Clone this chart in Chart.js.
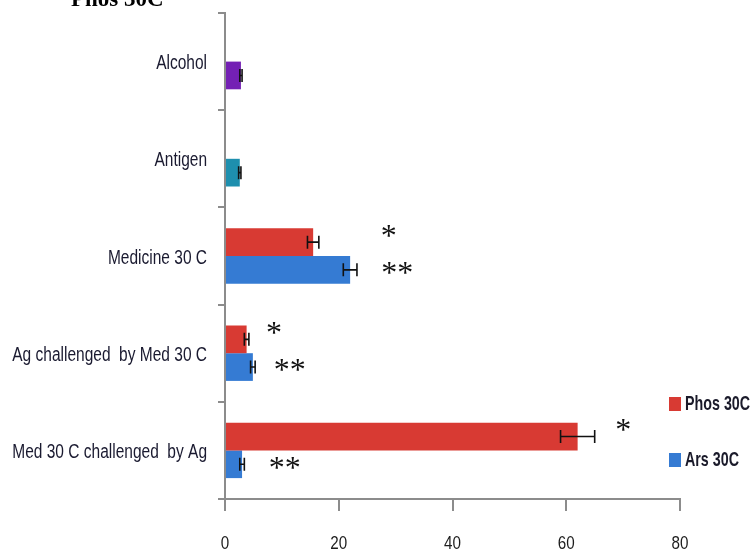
<!DOCTYPE html>
<html>
<head>
<meta charset="utf-8">
<script src="https://cdn.jsdelivr.net/npm/chart.js@4/dist/chart.umd.min.js"></script>
<style>
  html, body { margin: 0; padding: 0; background: #fff; }
  #wrap { width: 755px; height: 558px; position: relative; }
</style>
</head>
<body>
<div id="wrap"><canvas id="c" width="755" height="558"></canvas></div>
<script>
// ---- data ----
const categories = ["Alcohol", "Antigen", "Medicine 30 C", "Ag challenged  by Med 30 C", "Med 30 C challenged  by Ag"];
const seriesNames = ["Phos 30C", "Ars 30C"];
const phosValues = [null, null, 15.5, 3.8, 62.0];
const phosErrors = [null, null, 1.0, 0.4, 3.0];
const arsValues = [2.8, 2.6, 22.0, 4.9, 3.0];
const arsErrors = [0.2, 0.2, 1.2, 0.4, 0.4];
const phosStars = ["", "", "*", "*", "*"];
const phosStarAt = [null, null, 28.8, 8.6, 70.0];
const arsStars = ["", "", "**", "**", "**"];
const arsStarAt = [null, null, 30.3, 11.4, 10.5];
const xTicks = [0, 20, 40, 60, 80];
const titleText = "Phos 30C";

// ---- styles ----
const RED = "#d83a33";
const BLUE = "#357bd3";
const PURPLE = "#7420b4";
const TEAL = "#1e8fae";
const arsColors = [PURPLE, TEAL, BLUE, BLUE, BLUE];
const SANS = "'Liberation Sans', Arial, sans-serif";
const AXIS = "#8c8c8c";

function narrowText(ctx, text, x, y, align, squeeze) {
  ctx.save();
  ctx.translate(x, y);
  ctx.scale(squeeze, 1);
  ctx.textAlign = align;
  ctx.fillText(text, 0, 0);
  ctx.restore();
}

const extras = {
  id: "extras",
  afterDatasetsDraw(chart) {
    const ctx = chart.ctx;
    const xs = chart.scales.x;
    const errs = [phosErrors, arsErrors];
    const stars = [phosStars, arsStars];
    const starAt = [phosStarAt, arsStarAt];
    const starDy = [-5, 5];
    ctx.save();
    for (let d = 0; d < 2; d++) {
      const meta = chart.getDatasetMeta(d);
      const vals = chart.data.datasets[d].data;
      meta.data.forEach((el, i) => {
        const v = vals[i];
        if (v === null || v === undefined) return;
        const e = errs[d][i];
        if (e) {
          const x0 = xs.getPixelForValue(v - e);
          const x1 = xs.getPixelForValue(v + e);
          const y = el.y;
          const h = 6.5;
          ctx.strokeStyle = "#111";
          ctx.lineWidth = 1.6;
          ctx.beginPath();
          ctx.moveTo(x0, y); ctx.lineTo(x1, y);
          ctx.moveTo(x0, y - h); ctx.lineTo(x0, y + h);
          ctx.moveTo(x1, y - h); ctx.lineTo(x1, y + h);
          ctx.stroke();
        }
        const s = stars[d][i];
        if (s) {
          ctx.fillStyle = "#111";
          ctx.font = "32px 'Liberation Serif', 'Times New Roman', serif";
          ctx.textAlign = "center";
          ctx.textBaseline = "middle";
          ctx.fillText(s, xs.getPixelForValue(starAt[d][i]), el.y + starDy[d]);
        }
      });
    }
    ctx.restore();
  },
  afterDraw(chart) {
    const ctx = chart.ctx;
    const xs = chart.scales.x;
    const ys = chart.scales.y;
    ctx.save();
    // clipped title
    ctx.fillStyle = "#000";
    ctx.font = "bold 23px 'Liberation Serif', 'Times New Roman', serif";
    ctx.textAlign = "left";
    ctx.textBaseline = "alphabetic";
    ctx.fillText(titleText, 71, 6);
    // category labels
    ctx.fillStyle = "#1a1a30";
    ctx.font = "20px " + SANS;
    ctx.textBaseline = "middle";
    categories.forEach((c, i) => narrowText(ctx, c, 207, ys.getPixelForValue(i) + 2, "right", 0.775));
    // x tick labels
    ctx.fillStyle = "#1c1c1c";
    ctx.font = "19px " + SANS;
    xTicks.forEach(v => narrowText(ctx, String(v), xs.getPixelForValue(v), 544, "center", 0.8));
    // legend
    const cols = [RED, BLUE];
    const ly = [404, 460];
    ctx.font = "bold 21px " + SANS;
    for (let i = 0; i < 2; i++) {
      ctx.fillStyle = cols[i];
      ctx.fillRect(669, ly[i] - 7, 12, 14);
      ctx.fillStyle = "#1a1a2a";
      narrowText(ctx, seriesNames[i], 685, ly[i], "left", 0.68);
    }
    ctx.restore();
  }
};

new Chart(document.getElementById("c"), {
  type: "bar",
  data: {
    labels: categories,
    datasets: [
      { label: seriesNames[0], data: phosValues, backgroundColor: RED, borderWidth: 0 },
      { label: seriesNames[1], data: arsValues, backgroundColor: arsColors, borderWidth: 0 }
    ]
  },
  options: {
    indexAxis: "y",
    responsive: false,
    animation: false,
    layout: { padding: { left: 0, right: 75, top: 13, bottom: 0 } },
    datasets: { bar: { categoryPercentage: 0.57, barPercentage: 1.0 } },
    plugins: { legend: { display: false }, tooltip: { enabled: false }, title: { display: false } },
    scales: {
      x: {
        min: 0, max: 80,
        afterBuildTicks(scale) { scale.ticks = xTicks.map(v => ({ value: v })); },
        afterFit(scale) { scale.height = 59; },
        grid: { drawOnChartArea: false, drawTicks: true, tickLength: 12, color: AXIS, lineWidth: 2 },
        border: { display: true, color: AXIS, width: 2 },
        ticks: { padding: 22, color: "rgba(0,0,0,0)", font: { family: SANS, size: 20 } }
      },
      y: {
        afterFit(scale) { scale.width = 225; },
        grid: { drawOnChartArea: false, drawTicks: true, tickLength: 7, offset: true, color: AXIS, lineWidth: 2 },
        border: { display: true, color: AXIS, width: 2 },
        ticks: { padding: 0, color: "rgba(0,0,0,0)", font: { family: SANS, size: 2 } }
      }
    }
  },
  plugins: [extras]
});
</script>
</body>
</html>
